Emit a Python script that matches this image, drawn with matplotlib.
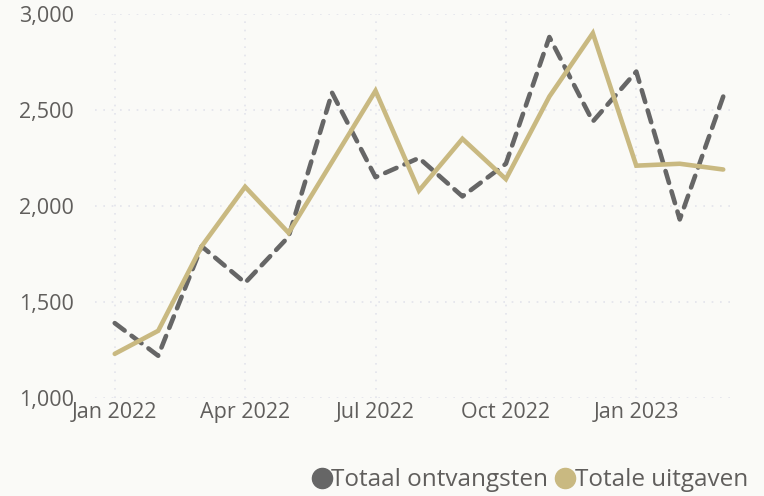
import matplotlib
matplotlib.use("Agg")
import matplotlib.pyplot as plt
from matplotlib.lines import Line2D
from matplotlib.ticker import FuncFormatter

# ---------------------------------------------------------------------------
# Data (monthly, Jan 2022 - Mar 2023)
# ---------------------------------------------------------------------------

months = ["Jan 2022", "Feb 2022", "Mar 2022", "Apr 2022", "May 2022", "Jun 2022",
          "Jul 2022", "Aug 2022", "Sep 2022", "Oct 2022", "Nov 2022", "Dec 2022",
          "Jan 2023", "Feb 2023", "Mar 2023"]
ontvangsten = [1390, 1220, 1790, 1600, 1840, 2590, 2150, 2250, 2050, 2220,
               2880, 2440, 2700, 1930, 2570]
uitgaven = [1230, 1350, 1790, 2100, 1860, 2230, 2600, 2080, 2350, 2140,
            2570, 2900, 2210, 2220, 2190]
tick_months = ["Jan 2022", "Apr 2022", "Jul 2022", "Oct 2022", "Jan 2023"]
y_ticks = [1000, 1500, 2000, 2500, 3000]

series_names = ["Totaal ontvangsten", "Totale uitgaven"]

# ---------------------------------------------------------------------------
# Style
# ---------------------------------------------------------------------------

BG = "#FAFAF7"
GRAY = "#666666"
TAN = "#C9B981"
TEXT = "#605E5C"
GRID = "#E3E4EC"

plt.rcParams["font.family"] = ["Open Sans", "DejaVu Sans"]

fig = plt.figure(figsize=(7.64, 4.96), dpi=100, facecolor=BG)
ax = fig.add_axes([0.124, 0.1976, 0.834, 0.7742], facecolor=BG)

x = list(range(len(months)))
ax.plot(x, ontvangsten, color=GRAY, lw=3.3, ls=(0, (2.7, 1.9)),
        dash_capstyle="round", solid_joinstyle="round", zorder=3)
ax.plot(x, uitgaven, color=TAN, lw=3.3, solid_capstyle="round",
        solid_joinstyle="miter", zorder=4)

ax.set_ylim(1000, 3000)
ax.set_xlim(-0.46, 14.2)
ax.set_yticks(y_ticks)
ax.yaxis.set_major_formatter(FuncFormatter(lambda v, p: f"{int(v):,}"))
ax.set_xticks([months.index(m) for m in tick_months])
ax.set_xticklabels(tick_months)

ax.tick_params(axis="both", length=0, colors=TEXT, labelsize=15.5)
ax.tick_params(axis="y", pad=15)
ax.tick_params(axis="x", pad=3)
for s in ax.spines.values():
    s.set_visible(False)
ax.grid(True, color=GRID, ls=(0, (1, 4)), lw=1.2)
ax.set_axisbelow(True)

handles = [
    Line2D([], [], ls="none", marker="o", markersize=14.5, color=GRAY),
    Line2D([], [], ls="none", marker="o", markersize=14.5, color=TAN),
]
leg = fig.legend(handles, series_names, loc="lower right",
                 bbox_to_anchor=(1.008, -0.037), ncol=2, frameon=False,
                 fontsize=17.5, handlelength=0.6, handletextpad=0.1,
                 columnspacing=0.4, labelcolor=TEXT)

fig.savefig("out.png", dpi=100, facecolor=BG)
plt.close()
